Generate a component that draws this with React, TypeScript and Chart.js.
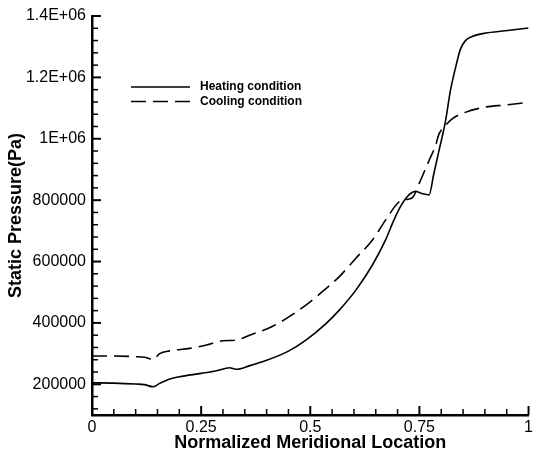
import React, { useEffect, useRef } from 'react';
import { Chart, registerables } from 'chart.js';

Chart.register(...registerables);

// ---- Data ----
const heatingX = [0, 0.05, 0.1, 0.12, 0.14, 0.155, 0.175, 0.2, 0.25, 0.285, 0.315, 0.33, 0.36, 0.4, 0.45, 0.49, 0.536, 0.566, 0.604, 0.642, 0.672, 0.69, 0.705, 0.72, 0.734, 0.742, 0.755, 0.772, 0.783, 0.795, 0.81, 0.821, 0.833, 0.844, 0.855, 0.871, 0.9, 0.947, 1.0];
const heatingY = [205000, 204000, 201000, 199000, 192000, 203000, 216000, 224500, 235600, 244000, 254000, 249000, 260000, 278000, 308000, 344000, 398000, 441000, 506000, 588000, 669000, 730000, 775000, 808000, 826000, 828000, 822000, 817000, 886000, 962000, 1059000, 1157000, 1233000, 1292000, 1319000, 1333000, 1344000, 1352000, 1361000];

const coolingX = [0, 0.05, 0.1, 0.12, 0.14, 0.155, 0.178, 0.224, 0.262, 0.3, 0.33, 0.361, 0.414, 0.49, 0.536, 0.566, 0.604, 0.642, 0.672, 0.703, 0.72, 0.735, 0.749, 0.772, 0.787, 0.795, 0.806, 0.825, 0.855, 0.9, 0.947, 1.0];
const coolingY = [292000, 292000, 290000, 288000, 281000, 300000, 309000, 317000, 328000, 342000, 344000, 360000, 389000, 458000, 512000, 550000, 610000, 669000, 734000, 794000, 802000, 810000, 853000, 929000, 978000, 1016000, 1037000, 1065000, 1086000, 1103000, 1110000, 1119000];

const seriesLabels = ['Heating condition', 'Cooling condition'];

const xTickValues = [0, 0.25, 0.5, 0.75, 1];
const xTickLabels = ['0', '0.25', '0.5', '0.75', '1'];
const yTickValues = [200000, 400000, 600000, 800000, 1000000, 1200000, 1400000];
const yTickLabels = ['200000', '400000', '600000', '800000', '1E+06', '1.2E+06', '1.4E+06'];

const xTitle = 'Normalized Meridional Location';
const yTitle = 'Static Pressure(Pa)';

const FONT = "'Liberation Sans', Arial, Helvetica, sans-serif";

const toPoints = (xs: number[], ys: number[]) => xs.map((x, i) => ({ x, y: ys[i] }));

const ticksPlugin = {
  id: 'inwardTicks',
  afterDatasetsDraw(chart: any) {
    const { ctx, chartArea, scales } = chart;
    const xs = scales.x;
    const ys = scales.y;
    ctx.save();
    ctx.strokeStyle = '#000';
    // x ticks
    for (let i = 0; i <= 20; i++) {
      const v = i * 0.05;
      const px = xs.getPixelForValue(v);
      const major = i % 5 === 0;
      ctx.lineWidth = major ? 2 : 1.5;
      ctx.beginPath();
      ctx.moveTo(px, chartArea.bottom);
      ctx.lineTo(px, chartArea.bottom - (major ? 9 : 6));
      ctx.stroke();
    }
    // y ticks
    for (let i = 3; i <= 35; i++) {
      const v = i * 40000;
      const py = ys.getPixelForValue(v);
      const major = i % 5 === 0;
      ctx.lineWidth = major ? 2 : 1.5;
      ctx.beginPath();
      ctx.moveTo(chartArea.left, py);
      ctx.lineTo(chartArea.left + (major ? 9 : 6), py);
      ctx.stroke();
    }
    // legend
    const lx = chartArea.left + 39;
    const ly = chartArea.top + 71;
    chart.data.datasets.forEach((ds: any, i: number) => {
      const y = ly + i * 14.5;
      ctx.lineWidth = 1.5;
      ctx.setLineDash(ds.borderDash || []);
      ctx.beginPath();
      ctx.moveTo(lx, y);
      ctx.lineTo(lx + 59, y);
      ctx.stroke();
      ctx.setLineDash([]);
      ctx.fillStyle = '#000';
      ctx.font = `bold 12px ${FONT}`;
      ctx.textBaseline = 'middle';
      ctx.textAlign = 'left';
      ctx.fillText(ds.label, lx + 69, y);
    });
    ctx.restore();
  },
};

export default function App() {
  const ref = useRef<HTMLCanvasElement | null>(null);
  useEffect(() => {
    if (!ref.current) return;
    const chart = new Chart(ref.current, {
      type: 'line',
      data: {
        datasets: [
          {
            label: seriesLabels[0],
            data: toPoints(heatingX, heatingY),
            borderColor: '#000',
            borderWidth: 1.6,
            pointRadius: 0,
            cubicInterpolationMode: 'monotone',
            fill: false,
          },
          {
            label: seriesLabels[1],
            data: toPoints(coolingX, coolingY),
            borderColor: '#000',
            borderWidth: 1.6,
            borderDash: [15, 7],
            pointRadius: 0,
            cubicInterpolationMode: 'monotone',
            fill: false,
          },
        ],
      },
      options: {
        animation: false,
        responsive: false,
        layout: { padding: { left: 0, right: 6, top: 16, bottom: 0 } },
        plugins: { legend: { display: false }, tooltip: { enabled: false } },
        scales: {
          x: {
            type: 'linear',
            min: 0,
            max: 1,
            grid: { display: false, drawTicks: false },
            border: { display: true, color: '#000', width: 2.5 },
            afterBuildTicks: (s: any) => {
              s.ticks = xTickValues.map((value) => ({ value }));
            },
            afterFit: (s: any) => {
              s.height = 39;
            },
            ticks: {
              padding: 3,
              color: '#000',
              font: { family: FONT, size: 16 },
              maxRotation: 0,
              autoSkip: false,
              callback: (v: any) => {
                const i = xTickValues.findIndex((t) => Math.abs(t - Number(v)) < 1e-9);
                return i >= 0 ? xTickLabels[i] : '';
              },
            },
            title: {
              display: true,
              text: xTitle,
              color: '#000',
              font: { family: FONT, size: 18, weight: 'bold' },
              padding: { top: 0, bottom: 0 },
            },
          },
          y: {
            type: 'linear',
            min: 100000,
            max: 1400000,
            grid: { display: false, drawTicks: false },
            border: { display: true, color: '#000', width: 2.5 },
            afterBuildTicks: (s: any) => {
              s.ticks = yTickValues.map((value) => ({ value }));
            },
            afterFit: (s: any) => {
              s.width = 92;
            },
            ticks: {
              padding: 6,
              color: '#000',
              font: { family: FONT, size: 16 },
              autoSkip: false,
              callback: (v: any) => {
                const i = yTickValues.findIndex((t) => Math.abs(t - Number(v)) < 1e-6);
                return i >= 0 ? yTickLabels[i] : '';
              },
            },
            title: {
              display: true,
              text: yTitle,
              color: '#000',
              font: { family: FONT, size: 18, weight: 'bold' },
              padding: { top: 5, bottom: 0 },
            },
          },
        },
      },
      plugins: [ticksPlugin],
    } as any);
    return () => chart.destroy();
  }, []);
  return (
    <div style={{ position: 'fixed', left: 0, top: 0, width: 536, height: 454, background: '#fff' }}>
      <canvas ref={ref} width={536} height={454} style={{ display: 'block' }} />
    </div>
  );
}
